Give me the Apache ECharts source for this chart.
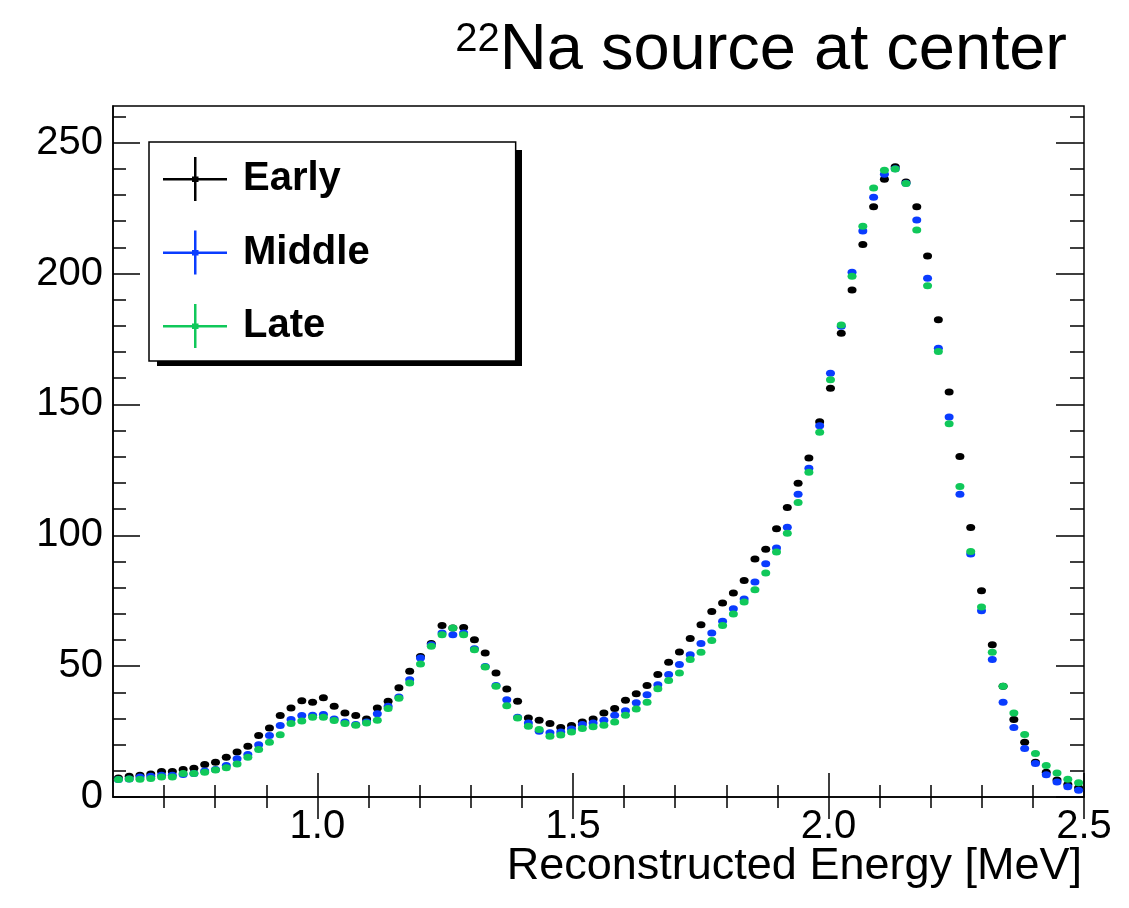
<!DOCTYPE html>
<html>
<head>
<meta charset="utf-8">
<script src="https://cdn.jsdelivr.net/npm/echarts@6/dist/echarts.min.js"></script>
<style>
html,body{margin:0;padding:0;background:#fff;}
#chart{width:1129px;height:908px;}
</style>
</head>
<body>
<div id="chart"></div>
<script>
// Histogram binning (90 bins from 0.6 to 2.5 MeV)
const binLow = 0.6;
const binHigh = 2.5;
const nBins = 90;

const early = [7.3,7.9,8.3,8.8,9.7,9.7,10.5,11.0,12.4,13.3,
  15.2,17.2,19.4,23.5,26.4,31.1,34.0,36.8,36.2,37.9,
  34.7,32.1,31.1,29.8,34.0,36.6,41.7,48.0,53.7,58.6,
  65.5,64.6,64.8,60.1,55.0,47.4,41.3,36.6,30.2,29.3,
  28.1,26.6,27.3,28.7,29.8,32.1,33.8,37.0,39.4,42.6,
  46.8,51.5,55.4,60.6,65.8,70.9,74.1,77.9,82.7,90.9,
  94.7,102.5,110.6,119.9,129.5,143.4,156.2,177.2,193.7,211.1,
  225.5,236.0,240.8,235.0,225.5,206.7,182.3,154.7,130.1,103.0,
  78.8,58.2,42.3,29.6,20.9,13.3,9.5,6.5,4.8,3.5];

const middle = [6.7,6.9,7.6,7.9,8.3,8.3,8.6,9.0,9.9,10.5,
  12.0,14.6,16.2,20.0,23.5,27.3,29.6,31.1,31.2,31.5,
  29.8,28.7,27.7,28.7,31.8,34.7,38.2,44.8,53.1,58.2,
  62.7,62.0,62.7,56.6,49.9,42.6,37.2,30.5,28.3,25.1,
  24.5,24.8,26.0,27.7,28.3,29.3,31.2,33.0,36.0,39.1,
  42.9,46.8,50.6,54.3,58.6,62.7,67.1,71.9,75.6,82.1,
  89.1,95.1,103.1,115.7,125.6,141.8,161.9,179.9,200.5,216.2,
  229.1,237.9,240.0,234.5,220.4,198.2,171.4,145.2,115.7,92.8,
  71.2,52.5,36.2,26.6,18.5,12.8,8.5,5.7,3.9,2.6];

const late = [6.7,6.9,6.8,7.1,7.6,7.6,9.0,9.0,9.5,10.3,
  11.2,12.6,15.2,18.1,20.9,23.8,28.1,29.0,30.5,30.5,
  29.2,28.1,27.4,28.3,29.3,33.8,37.7,43.6,50.8,57.6,
  62.0,64.6,62.0,56.3,49.7,42.3,34.9,30.2,27.0,25.8,
  23.2,23.7,24.8,26.2,26.8,27.4,28.7,31.2,33.6,36.2,
  41.4,44.5,47.4,52.5,55.3,59.8,65.5,69.9,74.5,79.2,
  85.6,93.6,100.8,112.5,124.1,139.4,159.4,180.3,199.0,218.1,
  232.7,239.5,239.9,234.4,216.6,195.3,170.2,142.6,118.6,93.8,
  72.6,55.3,42.3,32.1,23.9,16.6,12.0,9.2,6.8,5.4];

const seriesNames = ['Early','Middle','Late'];
const seriesColors = ['#000000','#0a3cff','#10c85a'];

const xMajorTicks = [1.0,1.5,2.0,2.5];
const xMinorTicks = [0.7,0.8,0.9,1.1,1.2,1.3,1.4,1.6,1.7,1.8,1.9,2.1,2.2,2.3,2.4];
const yMajorTicks = [0,50,100,150,200,250];
const yMinorTicks = [10,20,30,40,60,70,80,90,110,120,130,140,160,170,180,190,210,220,230,240,260];
const yMax = 264;

const titleMain = 'Na source at center';
const titleSup = '22';
const xTitle = 'Reconstructed Energy [MeV]';

const binW = (binHigh - binLow) / nBins;
function toPoints(vals){
  return vals.map((v,i)=>[binLow + (i+0.5)*binW, v]);
}

const FONT = 'Liberation Sans, Arial, Helvetica, sans-serif';
const black = '#000';

function xAx(pos, ticks, len, labels){
  return {
    type:'value', min:binLow, max:binHigh, position:pos,
    axisLine:{show: pos==='bottom' && labels, lineStyle:{color:black,width:1.5}},
    axisTick:{show:true, inside:true, length:len, customValues:ticks, lineStyle:{color:black,width:1.5}},
    axisLabel: labels ? {show:true, customValues:xMajorTicks, formatter:(v)=>Number(v).toFixed(1),
      fontSize:40, color:black, fontFamily:FONT, margin:10} : {show:false},
    splitLine:{show:false}
  };
}
function yAx(pos, ticks, len, labels){
  return {
    type:'value', min:0, max:yMax, position:pos,
    axisLine:{show: pos==='left' && labels, lineStyle:{color:black,width:1.5}},
    axisTick:{show:true, inside:true, length:len, customValues:ticks, lineStyle:{color:black,width:1.5}},
    axisLabel: labels ? {show:true, customValues:yMajorTicks, fontSize:40, color:black, fontFamily:FONT, margin:10} : {show:false},
    splitLine:{show:false}
  };
}

const xAxes = [xAx('bottom', xMinorTicks, 12, true), xAx('bottom', xMajorTicks, 24, false),
               xAx('top', xMinorTicks, 11, false), xAx('top', xMajorTicks, 22, false)];

const yAxes = [yAx('left', yMajorTicks, 27, true), yAx('left', yMinorTicks, 13, false),
               yAx('right', yMajorTicks, 28, false), yAx('right', yMinorTicks, 14, false)];

const dataSets = [early, middle, late];
const series = dataSets.map((d,k)=>({
  name: seriesNames[k], type:'scatter', xAxisIndex:0, yAxisIndex:0,
  symbol:'circle', symbolSize:[9,7],
  itemStyle:{color:seriesColors[k], opacity:1},
  data: toPoints(d), z: 2+k, silent:true, animation:false
}));

const chart = echarts.init(document.getElementById('chart'), null, {renderer:'canvas'});
chart.setOption({
  backgroundColor:'#ffffff',
  animation:false,
  title:[{
    text:'{sup|'+titleSup+'}{main|'+titleMain+'}',
    right:57, top:15,
    textStyle:{
      fontWeight:'normal',
      rich:{
        sup:{fontSize:40, fontFamily:FONT, fontWeight:'normal', color:black, verticalAlign:'top', lineHeight:63},
        main:{fontSize:65, fontFamily:FONT, fontWeight:'normal', color:black, lineHeight:63}
      }
    }
  },{
    text: xTitle, right:42, top:839,
    textStyle:{fontSize:45, fontFamily:FONT, fontWeight:'normal', color:black}
  }],
  grid:{left:113, right:45, top:106, bottom:111, show:true, borderColor:black, borderWidth:1.5,
        backgroundColor:'transparent', containLabel:false, outerBoundsMode:'none'},
  graphic:[{
    type:'rect', z:0, zlevel:0, silent:true,
    shape:{x:157, y:150, width:365, height:216},
    style:{fill:'#000'}
  }],
  legend:{
    orient:'vertical', left:149, top:142, z:10,
    padding:[15,146,13,14],
    itemWidth:64, itemHeight:44, itemGap:29.5,
    icon:'path://M0,21L64,21L64,23.5L0,23.5Z M31,0L33.5,0L33.5,44L31,44Z M29,19.5L35.5,19.5L35.5,25L29,25Z',
    backgroundColor:'#ffffff', borderColor:black, borderWidth:1.5,
    textStyle:{fontSize:40, fontWeight:'bold', color:black, fontFamily:FONT, lineHeight:44, padding:[0,0,0,11]},
    data: seriesNames,
    selectedMode:false
  },
  xAxis: xAxes,
  yAxis: yAxes,
  series: series
});
</script>
</body>
</html>
